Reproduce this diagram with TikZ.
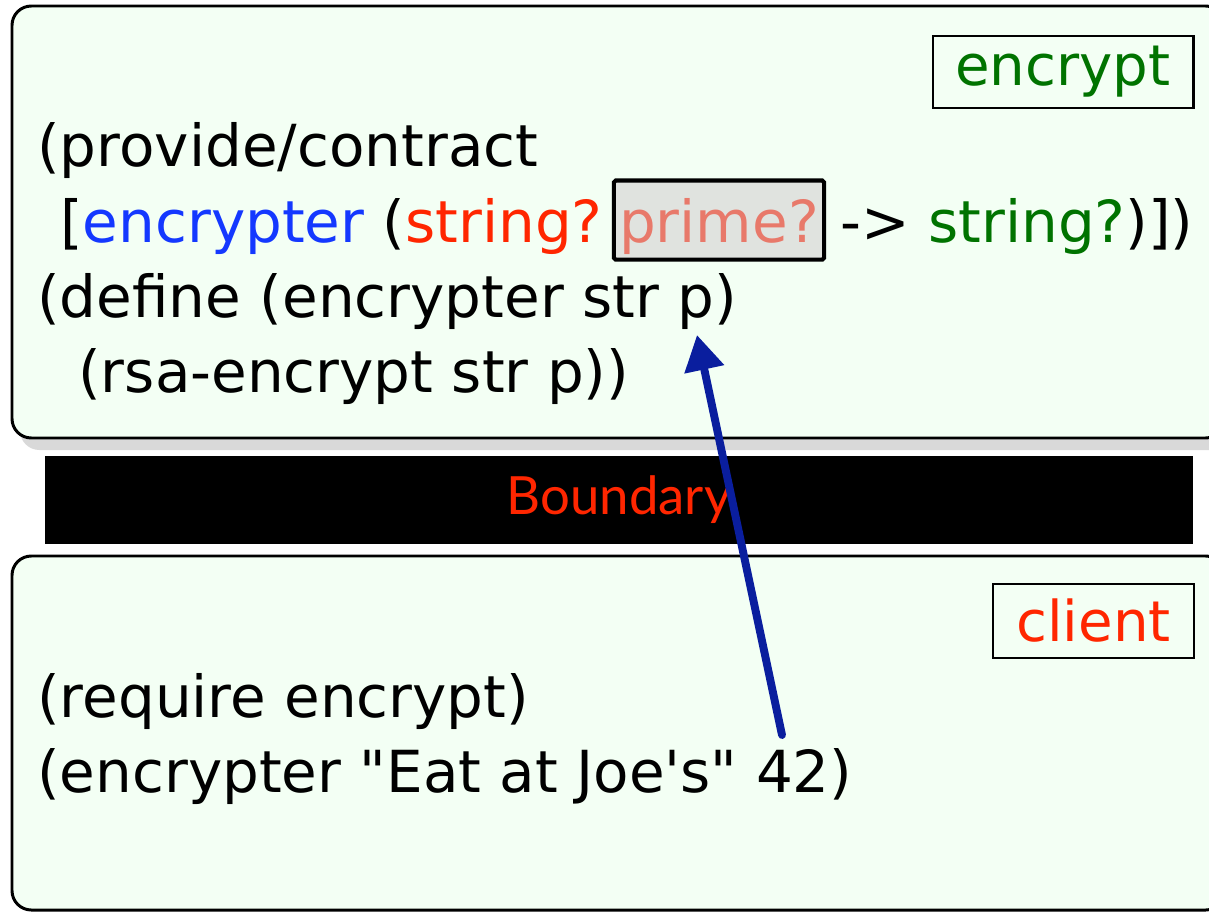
\documentclass[tikz,border=0pt]{standalone}
\usepackage{fontspec}
\setmainfont{DejaVu Sans}
\newfontfamily\bndfont{Lato}
\usetikzlibrary{arrows.meta}

\definecolor{boxfill}{HTML}{F3FFF4}
\definecolor{shadowgray}{HTML}{D9D9D9}
\definecolor{kwblue}{HTML}{1438FF}
\definecolor{ctred}{HTML}{FF2600}
\definecolor{ctgreen}{HTML}{007300}
\definecolor{primered}{HTML}{E8796A}
\definecolor{primefill}{HTML}{E0E3DF}
\definecolor{arrowblue}{HTML}{0A1E9E}

\tikzset{
	modbox/.style={draw=black, line width=1.7pt, fill=boxfill, rounded corners=11pt},
	code/.style={anchor=base west, inner sep=0pt, font=\fontsize{33}{40}\selectfont},
	modname/.style={draw=black, line width=1.2pt, fill=boxfill, inner sep=0pt, font=\fontsize{32}{38}\selectfont},
	primebox/.style={code, draw=black, line width=2.3pt, fill=primefill, rounded corners=1pt,
		inner xsep=3pt, inner ysep=4pt, text height=31pt, text depth=6pt},
}

\begin{document}
\begin{tikzpicture}[x=0.02cm, y=-0.02cm]
		\useasboundingbox (0,0) rectangle (1209,912);
		\clip (0,0) rectangle (1209,912);
		
		\coordinate (argsrc) at (782, 735);
		\coordinate (ptarget) at (697, 335);
		
		\fill [shadowgray, rounded corners=11pt] (20,18) rectangle (1233,450);
		\draw [modbox] (12,6) rectangle (1225,438);
		\draw [modbox] (12,556) rectangle (1225,910);
		
		\node [fill=black, minimum width=653pt, minimum height=50pt, inner sep=0pt] (boundary) at (619,500)
			{\bndfont\fontsize{30}{36}\selectfont\textcolor{ctred}{Boundary}};
		
		\node [modname, minimum width=148.5pt, minimum height=41pt] (encname) at (1063,72) {\textcolor{ctgreen}{encrypt}};
		\node [modname, minimum width=114pt, minimum height=42pt] (cliname) at (1093.5,621) {\textcolor{ctred}{client}};
		
		\node [code] (l1) at (37,167) {(provide/contract};
		\node [code] (l2a) at (60,242) {[\textcolor{kwblue}{encrypter} (\textcolor{ctred}{string?}};
		\node [primebox] (prime) at ([xshift=5pt]l2a.base east) {\textcolor{primered}{prime?}};
		\node [code] (l2b) at ([xshift=8pt]prime.base east) {-> \textcolor{ctgreen}{string?})])};
		\node [code] (l3) at (37,317) {(define (encrypter str p)};
		\node [code] (l4) at (78,392) {(rsa-encrypt str p))};
		
		\node [code] (r1) at (37,717) {(require encrypt)};
		\node [code] (r2) at (37,792) {(encrypter \textquotedbl Eat at Joe\textquotesingle s\textquotedbl\ 42)};
		
		\draw [arrowblue, line width=4.5pt, line cap=round, -{Triangle[length=20pt, width=22pt]}] (argsrc) -- (ptarget);
	\end{tikzpicture}
\end{document}
